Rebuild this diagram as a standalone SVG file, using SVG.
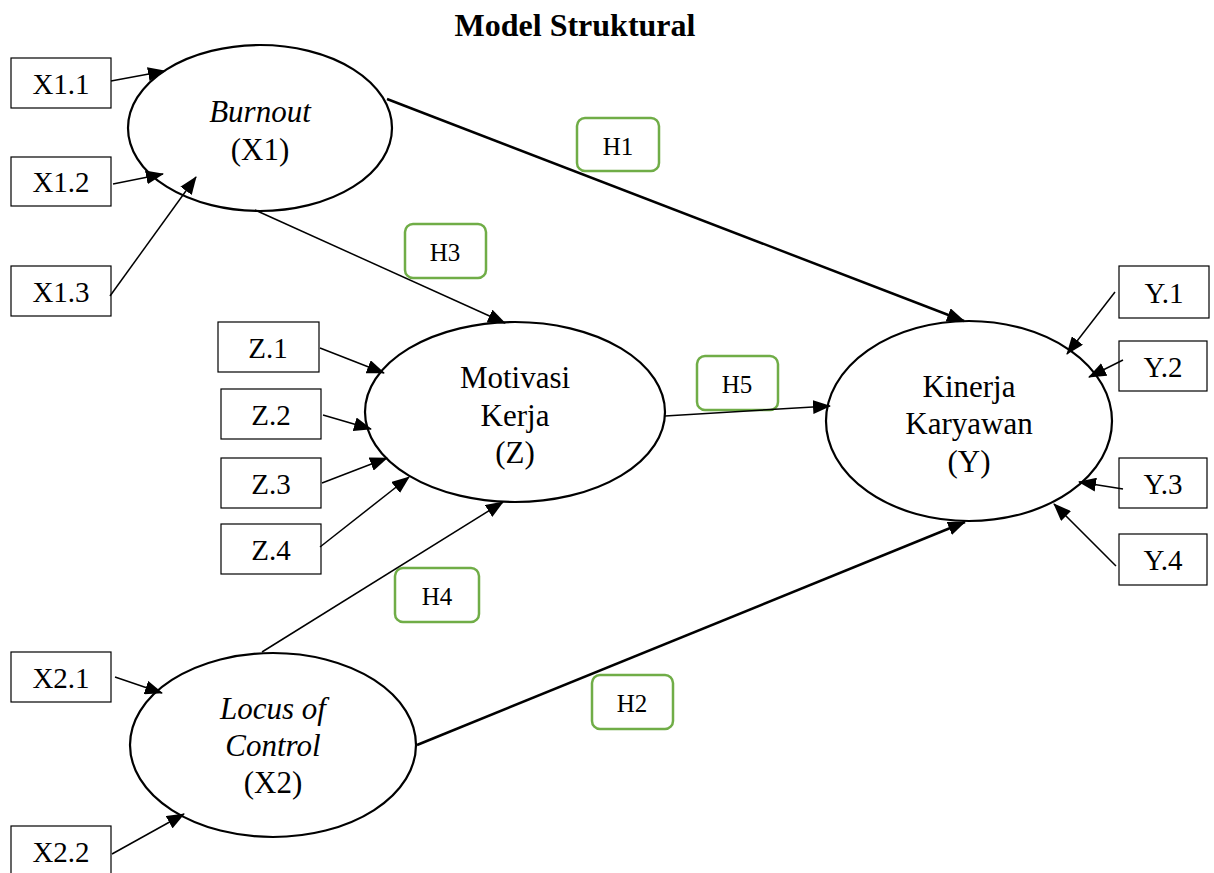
<svg xmlns="http://www.w3.org/2000/svg" width="1214" height="873" viewBox="0 0 1214 873" font-family="'Liberation Serif', 'Times New Roman', serif">
<defs>
<marker id="ah" markerUnits="userSpaceOnUse" markerWidth="18" markerHeight="14" refX="17" refY="7" orient="auto">
<path d="M0,0 L18,7 L0,14 z" fill="#000"/>
</marker>
<style>
text{font-family:'Liberation Serif','Times New Roman',serif;fill:#000;text-anchor:middle}
.box{fill:#fff;stroke:#000;stroke-width:1.2}
.lat{fill:#fff;stroke:#000;stroke-width:2.2}
.bt{font-size:29px}
.lt{font-size:31px}
.it{font-style:italic}
.hb{fill:#fff;stroke:#70AD47;stroke-width:2.5}
.ht{font-size:25px}
.c{stroke:#000;fill:none;marker-end:url(#ah)}
.c1{stroke-width:1.5}
.c2{stroke-width:2.5}
</style>
</defs>
<rect width="1214" height="873" fill="#fff"/>
<text x="575" y="36" style="font-size:32px;font-weight:bold">Model Struktural</text>

<g id="burnout"><ellipse class="lat" cx="260" cy="128" rx="132" ry="83"/>
<text class="lt it" x="260" y="122">Burnout</text><text class="lt" x="260" y="160">(X1)</text></g>
<g id="motivasi"><ellipse class="lat" cx="515" cy="412" rx="150" ry="90"/>
<text class="lt" x="515" y="388">Motivasi</text><text class="lt" x="515" y="426">Kerja</text><text class="lt" x="515" y="463">(Z)</text></g>
<g id="kinerja"><ellipse class="lat" cx="969" cy="421" rx="143" ry="100"/>
<text class="lt" x="969" y="397">Kinerja</text><text class="lt" x="969" y="434">Karyawan</text><text class="lt" x="969" y="472">(Y)</text></g>
<g id="locus"><ellipse class="lat" cx="273" cy="745" rx="143" ry="92"/>
<text class="lt it" x="273" y="719">Locus of</text><text class="lt it" x="273" y="756">Control</text><text class="lt" x="273" y="793">(X2)</text></g>

<g id="x11"><rect class="box" x="11" y="58" width="100" height="50"/><text class="bt" x="61" y="94">X1.1</text></g>
<g id="x12"><rect class="box" x="11" y="157" width="100" height="49"/><text class="bt" x="61" y="192">X1.2</text></g>
<g id="x13"><rect class="box" x="11" y="266" width="100" height="50"/><text class="bt" x="61" y="302">X1.3</text></g>
<g id="z1"><rect class="box" x="218" y="322" width="101" height="50"/><text class="bt" x="268" y="358">Z.1</text></g>
<g id="z2"><rect class="box" x="221" y="389" width="100" height="50"/><text class="bt" x="271" y="425">Z.2</text></g>
<g id="z3"><rect class="box" x="221" y="458" width="100" height="50"/><text class="bt" x="271" y="494">Z.3</text></g>
<g id="z4"><rect class="box" x="221" y="524" width="100" height="50"/><text class="bt" x="271" y="560">Z.4</text></g>
<g id="x21"><rect class="box" x="11" y="652" width="100" height="50"/><text class="bt" x="61" y="688">X2.1</text></g>
<g id="x22"><rect class="box" x="11" y="826" width="100" height="50"/><text class="bt" x="61" y="862">X2.2</text></g>
<g id="y1"><rect class="box" x="1119" y="266" width="90" height="52"/><text class="bt" x="1164" y="303">Y.1</text></g>
<g id="y2"><rect class="box" x="1119" y="341" width="88" height="50"/><text class="bt" x="1163" y="377">Y.2</text></g>
<g id="y3"><rect class="box" x="1119" y="458" width="88" height="50"/><text class="bt" x="1163" y="494">Y.3</text></g>
<g id="y4"><rect class="box" x="1119" y="534" width="88" height="51"/><text class="bt" x="1163" y="570">Y.4</text></g>

<g id="h1"><rect class="hb" x="577" y="118" width="82" height="53" rx="8"/><text class="ht" x="618" y="155">H1</text></g>
<g id="h3"><rect class="hb" x="405" y="224" width="81" height="54" rx="8"/><text class="ht" x="445" y="261">H3</text></g>
<g id="h5"><rect class="hb" x="697" y="356" width="81" height="54" rx="8"/><text class="ht" x="737" y="393">H5</text></g>
<g id="h4"><rect class="hb" x="395" y="568" width="84" height="54" rx="8"/><text class="ht" x="437" y="605">H4</text></g>
<g id="h2"><rect class="hb" x="592" y="675" width="81" height="54" rx="8"/><text class="ht" x="632" y="712">H2</text></g>

<g id="connectors">
<line class="c c1" x1="111" y1="81" x2="165" y2="71"/>
<line class="c c1" x1="113" y1="184" x2="163" y2="174"/>
<line class="c c1" x1="110" y1="296" x2="196" y2="177"/>
<line class="c c2" x1="387" y1="99" x2="964" y2="321"/>
<line class="c c1" x1="255" y1="210" x2="505" y2="323"/>
<line class="c c1" x1="320" y1="348" x2="384" y2="373"/>
<line class="c c1" x1="323" y1="415" x2="371" y2="429"/>
<line class="c c1" x1="322" y1="483" x2="387" y2="458"/>
<line class="c c1" x1="320" y1="547" x2="409" y2="477"/>
<line class="c c1" x1="262" y1="652" x2="503" y2="502"/>
<line class="c c1" x1="665" y1="416" x2="830" y2="406"/>
<line class="c c2" x1="417" y1="745" x2="965" y2="522"/>
<line class="c c1" x1="115" y1="677" x2="162" y2="693"/>
<line class="c c1" x1="112" y1="854" x2="184" y2="814"/>
<line class="c c1" x1="1115" y1="292" x2="1067" y2="354"/>
<line class="c c1" x1="1123" y1="360" x2="1089" y2="377"/>
<line class="c c1" x1="1123" y1="489" x2="1079" y2="482"/>
<line class="c c1" x1="1116" y1="566" x2="1054" y2="504"/>
</g>
</svg>
